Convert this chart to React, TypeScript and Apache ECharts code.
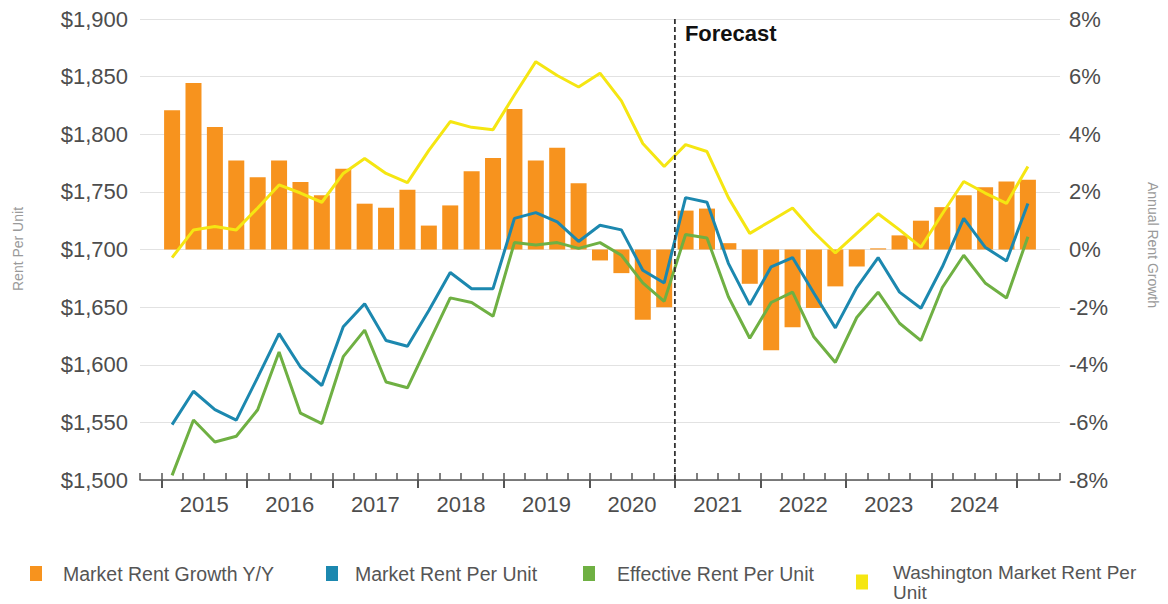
import React, { useEffect, useRef } from "react";
import * as echarts from "echarts";

const QUARTERS = [
  "2015 Q1", "2015 Q2", "2015 Q3", "2015 Q4",
  "2016 Q1", "2016 Q2", "2016 Q3", "2016 Q4",
  "2017 Q1", "2017 Q2", "2017 Q3", "2017 Q4",
  "2018 Q1", "2018 Q2", "2018 Q3", "2018 Q4",
  "2019 Q1", "2019 Q2", "2019 Q3", "2019 Q4",
  "2020 Q1", "2020 Q2", "2020 Q3", "2020 Q4",
  "2021 Q1", "2021 Q2", "2021 Q3", "2021 Q4",
  "2022 Q1", "2022 Q2", "2022 Q3", "2022 Q4",
  "2023 Q1", "2023 Q2", "2023 Q3", "2023 Q4",
  "2024 Q1", "2024 Q2", "2024 Q3", "2024 Q4",
  "2025 Q1",
];

const YEAR_LABELS = ["2015", "2016", "2017", "2018", "2019", "2020", "2021", "2022", "2023", "2024"];

const FORECAST_START = "2021 Q1";

// Annual rent growth, % (right axis)
const MARKET_RENT_GROWTH = [
  4.83, 5.78, 4.25, 3.09, 2.51, 3.09, 2.34, 1.88, 2.8, 1.59,
  1.45, 2.07, 0.83, 1.53, 2.72, 3.18, 4.88, 3.09, 3.53, 2.3,
  -0.38, -0.82, -2.44, -2.0, 1.35, 1.42, 0.22, -1.19, -3.5, -2.7,
  -2.03, -1.28, -0.59, 0.04, 0.49, 1.0, 1.47, 1.88, 2.16, 2.36,
  2.42,
];

// Rent per unit, $ (left axis)
const MARKET_RENT = [
  1548, 1577, 1561, 1552, 1589, 1627, 1598, 1582, 1633, 1653,
  1621, 1616, 1647, 1680, 1666, 1666, 1727, 1732, 1724, 1707,
  1721, 1717, 1682, 1671, 1745, 1741, 1688, 1652, 1685, 1693,
  1662, 1632, 1667, 1693, 1663, 1649, 1685, 1727, 1702, 1690,
  1740,
];

const EFFECTIVE_RENT = [
  1504, 1552, 1533, 1538, 1561, 1611, 1558, 1549, 1607, 1630,
  1585, 1580, 1619, 1658, 1654, 1642, 1706, 1704, 1706, 1701,
  1706, 1695, 1671, 1655, 1713, 1710, 1659, 1623, 1654, 1663,
  1624, 1602, 1641, 1663, 1636, 1621, 1667, 1695, 1671, 1658,
  1711,
];

const WASHINGTON_RENT = [
  1693, 1717, 1720, 1717, 1736, 1756, 1749, 1741, 1766, 1779,
  1766, 1758, 1786, 1811, 1806, 1804, 1834, 1863, 1851, 1841,
  1853, 1829, 1792, 1772, 1791, 1785, 1745, 1714, 1725, 1736,
  1715, 1697, 1714, 1731, 1717, 1702, 1731, 1759, 1749, 1740,
  1772,
];

const FONT = "'Liberation Sans', Arial, Helvetica, sans-serif";
const LABEL_COLOR = "#4d4d4d";

export default function App() {
  const ref = useRef<HTMLDivElement>(null);

  useEffect(() => {
    if (!ref.current) return;
    const chart = echarts.init(ref.current, undefined, { renderer: "svg" });

    // one empty category on each side of the data
    const cats = ["", ...QUARTERS, ""];
    const pad = (arr: number[]) => [null, ...arr, null];
    const nCats = cats.length;

    const yearStartBoundary = (y: string) => QUARTERS.indexOf(`${y} Q1`) + 1;
    const majorTicks = QUARTERS.map((q, i) => (q.endsWith("Q1") ? i + 1 : -1)).filter((v) => v >= 0);
    const yearCenters = YEAR_LABELS.map((y) => yearStartBoundary(y) + 2);
    const forecastBoundary = QUARTERS.indexOf(FORECAST_START) + 1;

    const legendItem = (
      name: string,
      left: number,
      top: number,
      gap: number,
      fontSize = 19.5,
      lineHeight = 21,
      extra: any = {}
    ) => ({
      orient: "horizontal",
      padding: 0,
      itemWidth: 12,
      itemHeight: 15,
      icon: "rect",
      selectedMode: false,
      data: [name],
      left,
      top,
      textStyle: {
        fontSize,
        color: "#555",
        fontFamily: FONT,
        padding: [0, 0, 0, gap],
        lineHeight,
      },
      ...extra,
    });

    const option: any = {
      animation: false,
      backgroundColor: "#ffffff",
      grid: { left: 140, right: 108, top: 19, bottom: 124, containLabel: false },
      legend: [
        legendItem("Market Rent Growth Y/Y", 30, 563, 16),
        legendItem("Market Rent Per Unit", 326, 563, 12),
        legendItem("Effective Rent Per Unit", 583, 563, 17),
        legendItem("Washington Market Rent Per Unit", 856, 562, 20, 19, 20, {
          formatter: (n: string) => n.replace(" Per Unit", " Per\nUnit"),
        }),
      ],
      xAxis: [
        {
          type: "category",
          data: cats,
          boundaryGap: true,
          axisLine: { show: true, onZero: false, lineStyle: { color: "#555", width: 1.5 } },
          axisTick: { show: true, interval: 0, inside: true, length: 7, lineStyle: { color: "#555", width: 1.5 } },
          axisLabel: { show: false },
          splitLine: { show: false },
        },
        {
          type: "value",
          min: 0,
          max: nCats,
          position: "bottom",
          axisLine: { show: false, onZero: false },
          splitLine: { show: false },
          axisTick: {
            show: true,
            customValues: majorTicks,
            length: 8,
            lineStyle: { color: "#555", width: 2 },
          },
          axisLabel: {
            show: true,
            customValues: yearCenters,
            formatter: (v: number) => YEAR_LABELS[yearCenters.indexOf(v)] ?? "",
            fontSize: 22,
            color: LABEL_COLOR,
            fontFamily: FONT,
            margin: 13,
          },
        },
      ],
      yAxis: [
        {
          type: "value",
          min: 1500,
          max: 1900,
          interval: 50,
          position: "left",
          axisLine: { show: false },
          axisTick: { show: false },
          splitLine: { show: true, lineStyle: { color: "#e2e2e2", width: 1 } },
          axisLabel: {
            fontSize: 22,
            color: LABEL_COLOR,
            fontFamily: FONT,
            margin: 12,
            formatter: (v: number) => "$" + String(v).replace(/\B(?=(\d{3})+(?!\d))/g, ","),
          },
        },
        {
          type: "value",
          min: -8,
          max: 8,
          interval: 2,
          position: "right",
          axisLine: { show: false },
          axisTick: { show: false },
          splitLine: { show: false },
          axisLabel: {
            fontSize: 22,
            color: LABEL_COLOR,
            fontFamily: FONT,
            margin: 9,
            formatter: (v: number) => `${v}%`,
          },
        },
      ],
      series: [
        {
          name: "Market Rent Growth Y/Y",
          type: "bar",
          xAxisIndex: 0,
          yAxisIndex: 1,
          data: pad(MARKET_RENT_GROWTH),
          barWidth: 16,
          itemStyle: { color: "#F7931E" },
          z: 1,
        },
        {
          name: "Effective Rent Per Unit",
          type: "line",
          xAxisIndex: 0,
          yAxisIndex: 0,
          data: pad(EFFECTIVE_RENT),
          symbol: "none",
          lineStyle: { color: "#6FB043", width: 3 },
          itemStyle: { color: "#6FB043" },
          z: 3,
        },
        {
          name: "Market Rent Per Unit",
          type: "line",
          xAxisIndex: 0,
          yAxisIndex: 0,
          data: pad(MARKET_RENT),
          symbol: "none",
          lineStyle: { color: "#1C88AF", width: 3 },
          itemStyle: { color: "#1C88AF" },
          z: 4,
        },
        {
          name: "Washington Market Rent Per Unit",
          type: "line",
          xAxisIndex: 0,
          yAxisIndex: 0,
          data: pad(WASHINGTON_RENT),
          symbol: "none",
          lineStyle: { color: "#F5E612", width: 3 },
          itemStyle: { color: "#F5E612" },
          z: 5,
        },
        {
          name: "forecast",
          type: "line",
          xAxisIndex: 1,
          yAxisIndex: 0,
          data: [
            [forecastBoundary, 1500],
            [forecastBoundary, 1900],
          ],
          symbol: "none",
          silent: true,
          lineStyle: { color: "#333", width: 1.8, type: [5, 3] },
          z: 6,
        },
      ],
    };

    chart.setOption(option);

    const fx = chart.convertToPixel({ xAxisIndex: 1 }, forecastBoundary) as number;
    const fy = chart.convertToPixel({ yAxisIndex: 0 }, 1900) as number;

    chart.setOption({
      graphic: [
        {
          type: "text",
          x: fx + 10,
          y: fy + 14,
          style: {
            text: "Forecast",
            fontSize: 22,
            fontWeight: "bold",
            fontFamily: FONT,
            fill: "#111",
            textAlign: "left",
            textVerticalAlign: "middle",
          },
        },
        {
          type: "text",
          x: 18,
          y: 249,
          rotation: Math.PI / 2,
          style: {
            text: "Rent Per Unit",
            fontSize: 14,
            fontFamily: FONT,
            fill: "#9a9a9a",
            textAlign: "center",
            textVerticalAlign: "middle",
          },
        },
        {
          type: "text",
          x: 1153,
          y: 245,
          rotation: -Math.PI / 2,
          style: {
            text: "Annual Rent Growth",
            fontSize: 14,
            fontFamily: FONT,
            fill: "#9a9a9a",
            textAlign: "center",
            textVerticalAlign: "middle",
          },
        },
      ],
    });

    return () => chart.dispose();
  }, []);

  return (
    <div
      ref={ref}
      style={{ position: "fixed", left: 0, top: 0, width: 1168, height: 604, background: "#fff" }}
    />
  );
}
